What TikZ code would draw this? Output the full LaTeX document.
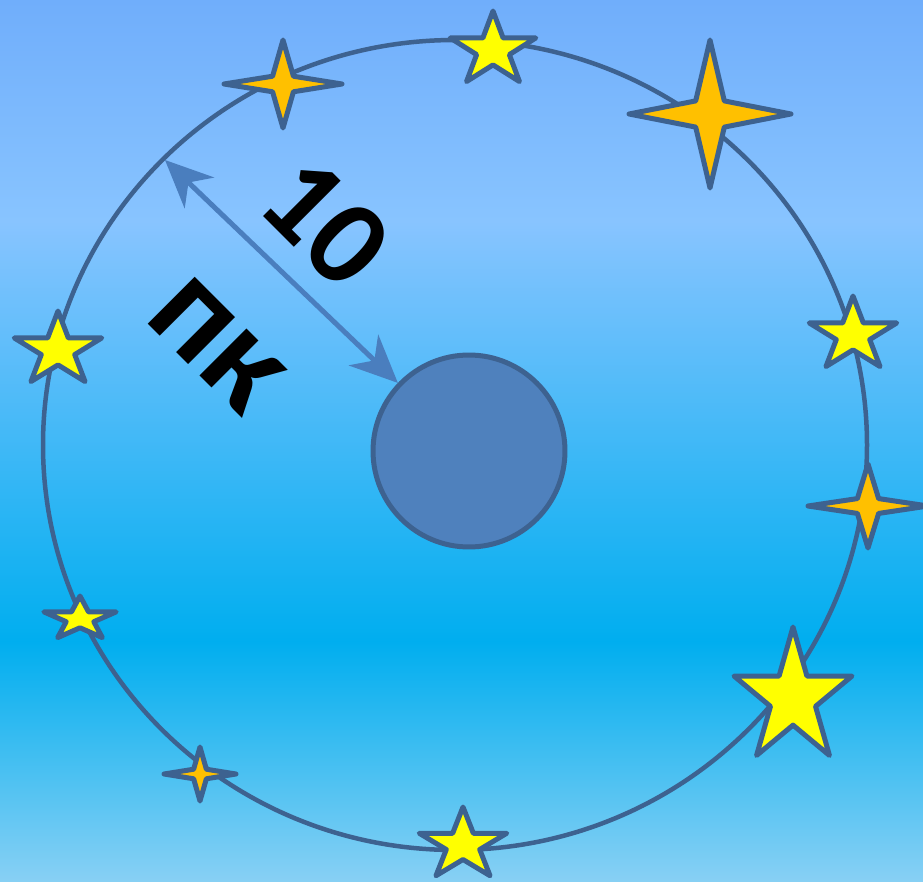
\documentclass[tikz,border=0pt]{standalone}
\usepackage{fontspec}
\newfontfamily\labelfont{Carlito}
\usetikzlibrary{arrows.meta}
\definecolor{skytop}{HTML}{70AEFB}
\definecolor{skylight}{HTML}{88C4FF}
\definecolor{skymid}{HTML}{00AEEF}
\definecolor{skybottom}{HTML}{88D0F4}
\definecolor{ringblue}{HTML}{3D6290}
\definecolor{sunblue}{HTML}{4F81BD}
\definecolor{arrowblue}{HTML}{4A7EBE}
\definecolor{staryellow}{HTML}{FFFF00}
\definecolor{starorange}{HTML}{FFC000}

\begin{document}
\begin{tikzpicture}[x=0.02cm,y=-0.02cm,
  starline/.style={draw=ringblue,line width=0.1cm,line join=round},
  >={Stealth[length=0.95cm,width=0.85cm,inset=0.3cm]}]
\useasboundingbox (0,0) rectangle (923,882);
\shade[top color=skytop,bottom color=skylight] (0,0) rectangle (923,222);
\shade[top color=skylight,bottom color=skymid] (0,221) rectangle (923,642);
\shade[top color=skymid,bottom color=skybottom] (0,641) rectangle (923,882);
\draw[ringblue,line width=0.09cm] (455,445) ellipse [x radius=412,y radius=405];
\foreach \x/\y/\rx/\ry in {493/50/45/39,853/335/46/39,793/698/62/71,58/350/46/39,80/619/38/23,463/845/46/38}
  \draw[starline,fill=staryellow,shift={(\x,\y)}] (-90:{\rx} and {\ry})
    \foreach \k [evaluate=\k as \f using {1-0.618*mod(\k,2)}] in {1,...,9}{ -- ({-90+36*\k}:{\f*\rx} and {\f*\ry}) } -- cycle;
\foreach \x/\y/\rx/\ry in {283/84/59/44,710/114/81/74,868/506/60/42,200/774/36/27}
  \draw[starline,fill=starorange,shift={(\x,\y)}] (-90:{\rx} and {\ry})
    \foreach \k [evaluate=\k as \f using {1-0.75*mod(\k,2)}] in {1,...,7}{ -- ({-90+45*\k}:{\f*\rx} and {\f*\ry}) } -- cycle;
\node[circle,draw=ringblue,fill=sunblue,line width=0.1cm,minimum size=3.84cm,inner sep=0] (sun) at (469,451) {};
\coordinate (rim) at (165,160);
\draw[<->,arrowblue,line width=0.1cm] (rim) -- (sun);
\node[font=\labelfont\bfseries\fontsize{70}{70}\selectfont,rotate=-45,inner sep=0] (dist) at (326,222) {10};
\node[font=\labelfont\bfseries\fontsize{78}{78}\selectfont,rotate=-45,inner sep=0] (unit) at (216,345) {пк};
\end{tikzpicture}
\end{document}
